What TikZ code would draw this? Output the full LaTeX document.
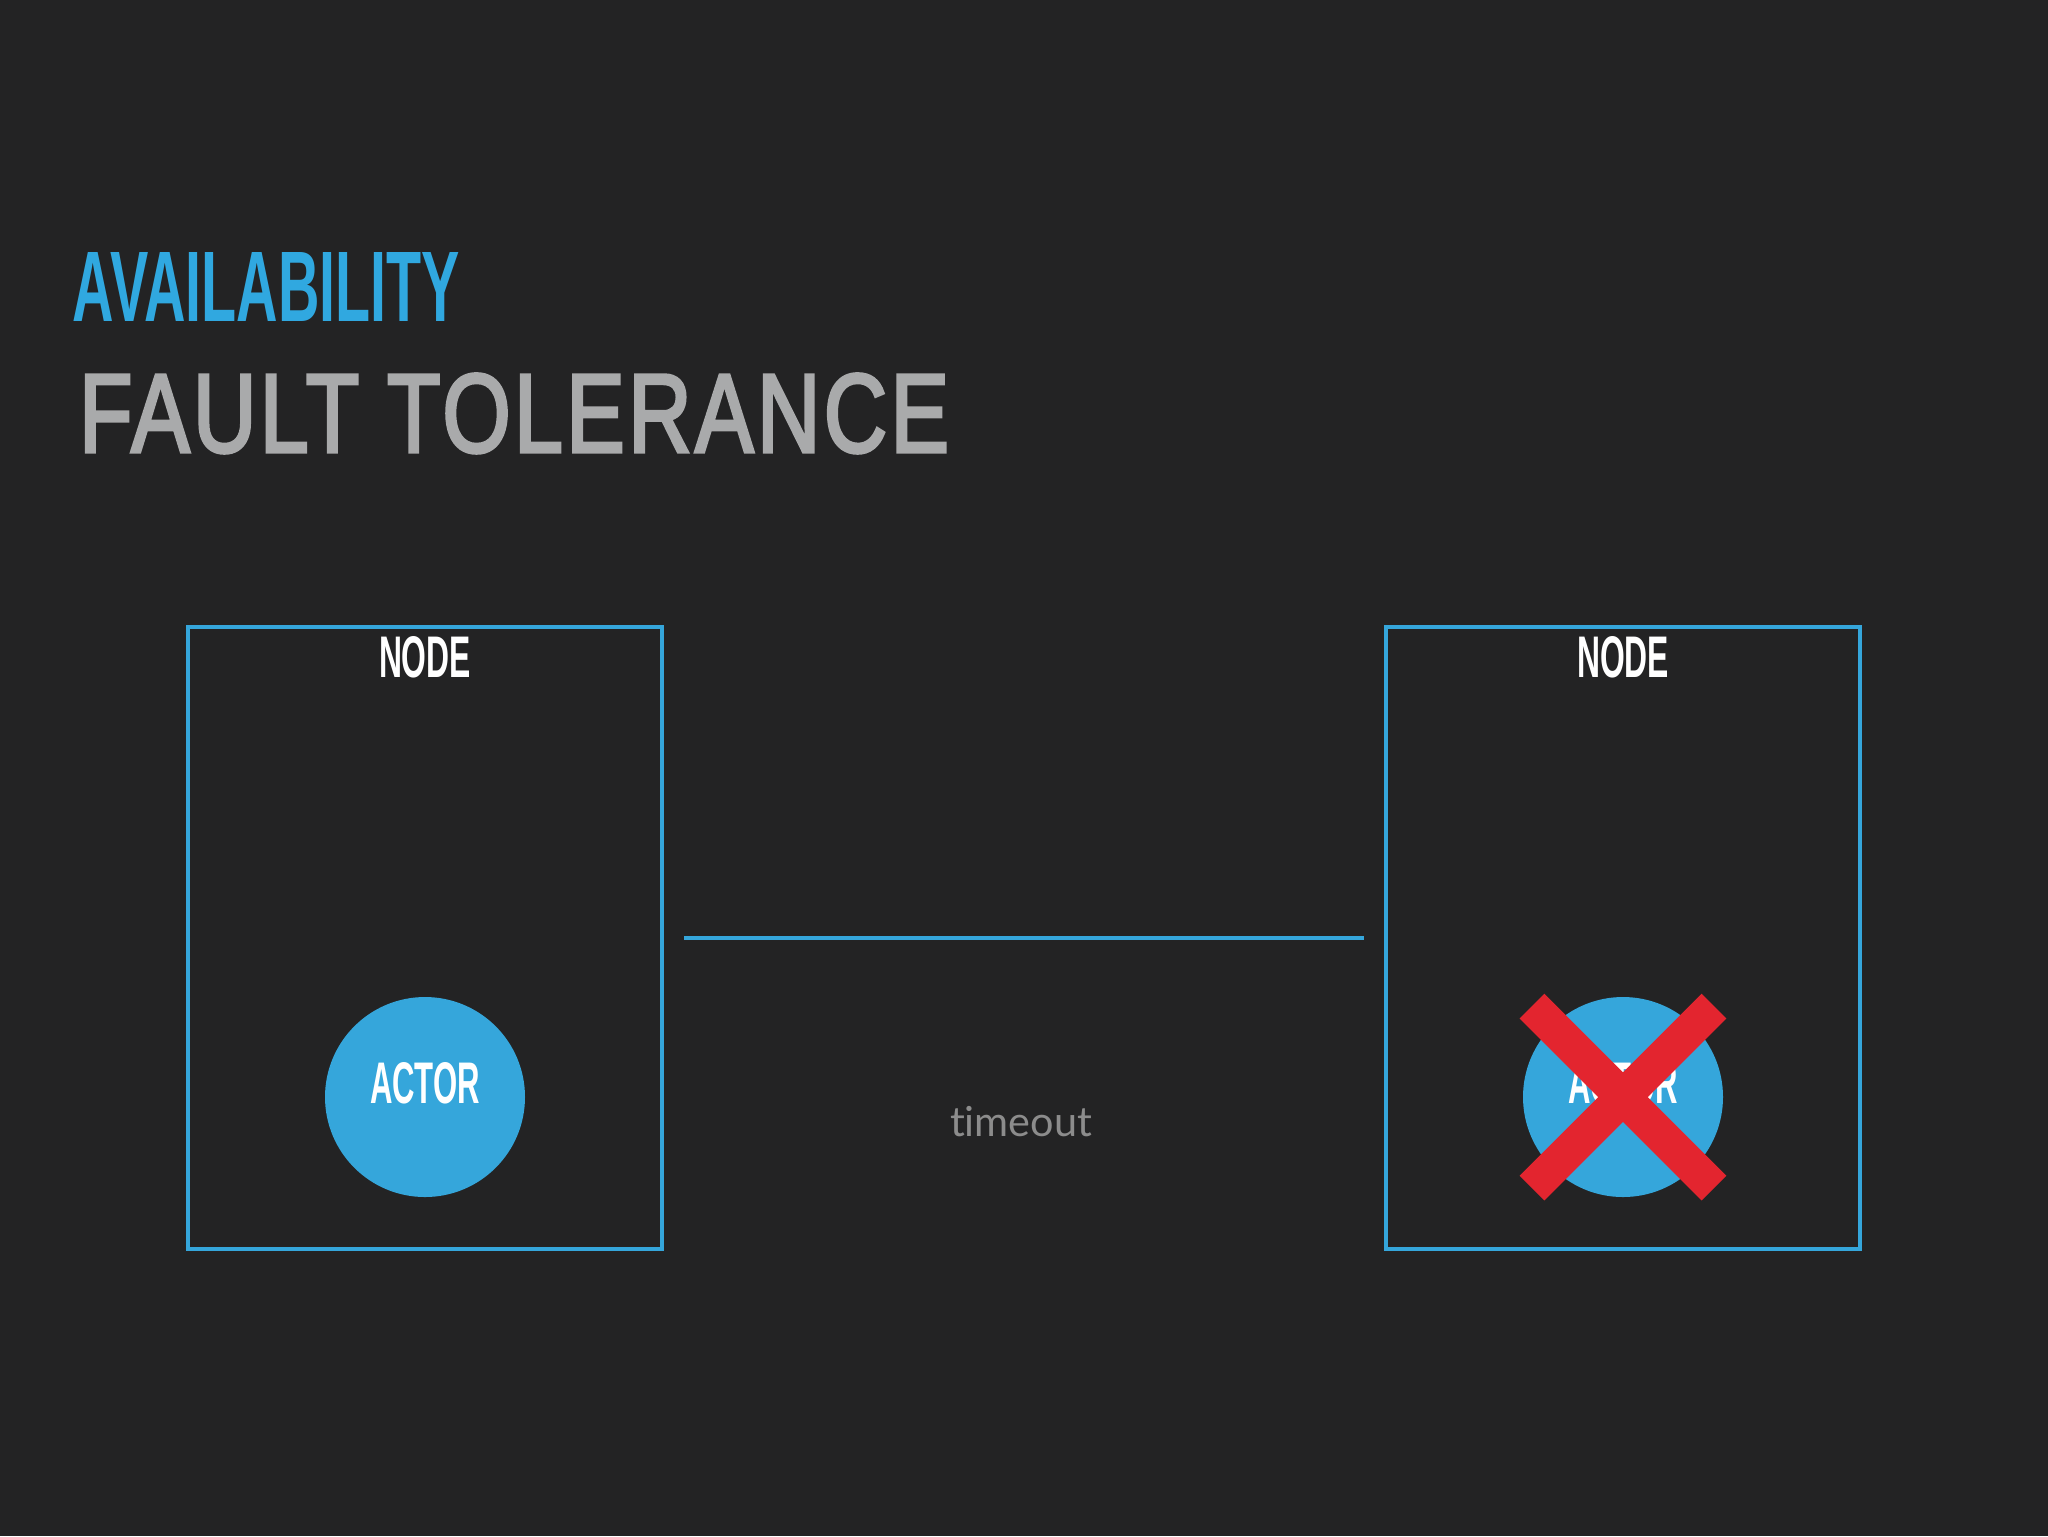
\documentclass[tikz,border=0pt]{standalone}
\usepackage{fontspec}
\newfontfamily\headfont{Liberation Sans}
\newfontfamily\midfont[FakeBold=3.2,LetterSpace=4]{Liberation Sans}
\newfontfamily\labelfont[Ligatures=NoCommon]{Lato}
\definecolor{bg}{HTML}{232324}
\definecolor{azure}{HTML}{35A6DB}
\definecolor{titleblue}{HTML}{30A8E0}
\definecolor{softgray}{HTML}{A9AAAB}
\definecolor{dimgray}{HTML}{8C8C8C}
\definecolor{crossred}{HTML}{E3252F}
\tikzset{
  machine/.style={draw=azure, line width=0.45mm, minimum width=47.4mm, minimum height=62.2mm, inner sep=0},
  actorball/.style={circle, fill=azure, minimum size=20mm, inner sep=0},
  txt/.style={inner sep=0, outer sep=0},
  link/.style={draw=azure, line width=0.42mm},
  cross/.style={draw=crossred, line width=3.5mm},
}
\begin{document}
\begin{tikzpicture}[x=0.1mm,y=-0.1mm]
  \fill[bg] (0,0) rectangle (2048,1536);
  % titles
  \node[txt, anchor=south west, text=titleblue] (avail) at (73,321)
    {\resizebox{38.7mm}{6.9mm}{\headfont\bfseries AVAILABILITY}};
  \node[txt, anchor=south west, text=softgray] (fault) at (79,453)
    {\resizebox{87mm}{7.8mm}{\midfont FAULT TOLERANCE}};
  % boxes
  \node[machine] (boxL) at (425,938) {};
  \node[machine] (boxR) at (1623,938) {};
  \node[txt, text=white] (nodeL) at (425,657.5)
    {\resizebox{9.2mm}{4.1mm}{\headfont\bfseries NODE}};
  \node[txt, text=white] (nodeR) at (1623,657.5)
    {\resizebox{9.2mm}{4.1mm}{\headfont\bfseries NODE}};
  % actors
  \node[actorball] (ballL) at (425,1097) {};
  \node[actorball] (ballR) at (1623,1097) {};
  \node[txt, text=white] (actL) at (425,1083.5)
    {\resizebox{11mm}{4.1mm}{\headfont\bfseries ACTOR}};
  \node[txt, text=white] (actR) at (1623,1083.5)
    {\resizebox{11mm}{4.1mm}{\headfont\bfseries ACTOR}};
  % connection
  \draw[link] ([xshift=2mm]boxL.east) -- ([xshift=-2mm]boxR.west);
  \node[txt, anchor=base, text=dimgray] (timeout) at (1021,1136)
    {\resizebox{14.2mm}{!}{\labelfont timeout}};
  % cross
  \draw[cross] ([shift={(-91,-91)}]ballR.center) -- ([shift={(91,91)}]ballR.center);
  \draw[cross] ([shift={(91,-91)}]ballR.center) -- ([shift={(-91,91)}]ballR.center);
\end{tikzpicture}
\end{document}
